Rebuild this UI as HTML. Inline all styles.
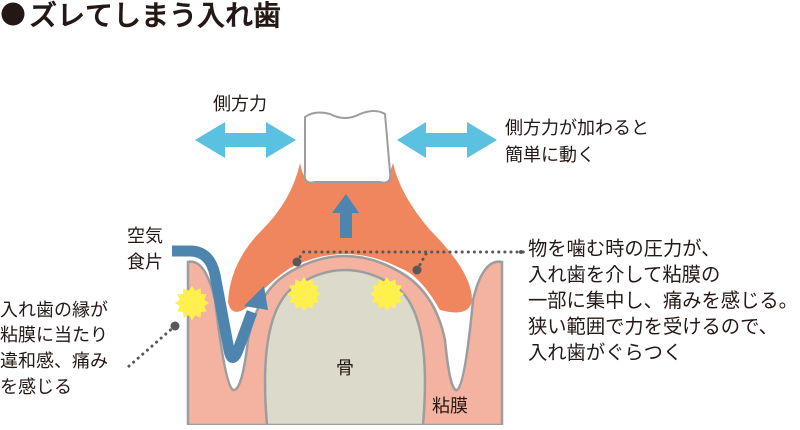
<!DOCTYPE html>
<html><head><meta charset="utf-8"><style>
body{margin:0;width:800px;height:425px;background:#fff;overflow:hidden;font-family:"Liberation Sans","Noto Sans CJK JP",sans-serif;}
svg text{font-family:"Liberation Sans","Noto Sans CJK JP",sans-serif;fill:#231815;}
</style></head><body>
<svg width="800" height="425" viewBox="0 0 800 425">
<defs>
<polygon id="star" fill="#fff04d" points="17,0 12.3,3.3 14.7,8.5 9,9 8.5,14.7 3.3,12.3 0,17 -3.3,12.3 -8.5,14.7 -9,9 -14.7,8.5 -12.3,3.3 -17,0 -12.3,-3.3 -14.7,-8.5 -9,-9 -8.5,-14.7 -3.3,-12.3 0,-17 3.3,-12.3 8.5,-14.7 9,-9 14.7,-8.5 12.3,-3.3"/>
</defs>
<circle cx="13" cy="14" r="11.5" fill="#231815"/>
<text x="29" y="25" font-size="28" font-weight="500" stroke="#231815" stroke-width="0.6">ズレてしまう入れ歯</text>
<!-- gum -->
<path d="M188,425 L188,262 Q205,258 215,300 Q225,385 233,390 Q242,392 248,340 Q258,290 290,272 Q345,240 400,272 Q435,292 445,340 Q450,392 457,390 Q465,385 473,300 Q483,258 502,262 L502,425 Z" fill="#f4b2a1" stroke="#9d9d9d" stroke-width="2.5"/>
<!-- bone -->
<path d="M267,425 Q258,320 290,290 Q345,250 400,290 Q432,320 423,425 Z" fill="#dcdacb" stroke="#9d9d9d" stroke-width="2.5"/>
<!-- denture -->
<path d="M300,163 Q305,190 320,180 L370,180 Q385,190 393,163 Q400,195 430,230 Q472,272 472,300 Q470,318 440,310 Q420,275 400,268 Q345,240 290,268 Q265,285 250,305 Q232,320 228,302 Q230,262 262,230 Q292,200 300,163 Z" fill="#ef865d"/>
<!-- tooth -->
<path d="M305,117 Q315,110 330,114 Q345,122 360,114 Q375,108 385,114 L390,172 Q392,185 380,182 L315,182 Q303,185 305,172 Z" fill="#fff" stroke="#9d9d9d" stroke-width="2"/>
<!-- horizontal arrows -->
<g fill="#5bc1e0">
<polygon points="195,140 225,122 225,133 266,133 266,122 296,140 266,158 266,147 225,147 225,158"/>
<polygon points="397,140 426,122 426,133 467,133 467,122 497,140 467,158 467,147 426,147 426,158"/>
</g>
<!-- up arrow -->
<polygon points="346,194 359,213 352,213 352,238 340,238 340,213 332,213" fill="#4d85ae"/>
<!-- curved blue arrow -->
<path d="M172,251 L190,251 Q210,251 215,275 L229,350 Q232,365 238,350 L252,312" fill="none" stroke="#4d85ae" stroke-width="11" stroke-linejoin="round"/>
<polygon points="264,286 268,310 244,306" fill="#4d85ae"/>
<!-- stars -->
<use href="#star" x="192" y="303"/>
<use href="#star" x="304" y="294"/>
<use href="#star" x="387" y="294"/>
<!-- dotted leaders -->
<g fill="#595757">
<circle cx="297" cy="262" r="4.5"/><circle cx="417" cy="270" r="4.5"/><circle cx="175" cy="326" r="4.5"/><circle cx="521" cy="252" r="2"/>
</g>
<g fill="none" stroke="#595757" stroke-width="3" stroke-dasharray="0.1 6" stroke-linecap="round">
<path d="M297,262 L303,252 L525,252"/>
<path d="M417,270 L427,252"/>
<path d="M175,326 L128,367"/>
</g>
<!-- labels -->
<g font-size="18">
<text x="213" y="110">側方力</text>
<text x="505" y="134">側方力が加わると</text>
<text x="505" y="161">簡単に動く</text>
<text x="127" y="242">空気</text>
<text x="127" y="268">食片</text>
<text x="0" y="316">入れ歯の縁が</text>
<text x="0" y="341">粘膜に当たり</text>
<text x="0" y="367">違和感、痛み</text>
<text x="0" y="393">を感じる</text>
<text x="336" y="374">骨</text>
<text x="432" y="412">粘膜</text>
</g>
<g font-size="19.3">
<text x="528" y="255">物を噛む時の圧力が、</text>
<text x="528" y="281">入れ歯を介して粘膜の</text>
<text x="528" y="307">一部に集中し、痛みを感じる。</text>
<text x="528" y="333">狭い範囲で力を受けるので、</text>
<text x="528" y="359">入れ歯がぐらつく</text>
</g>
</svg>
</body></html>
